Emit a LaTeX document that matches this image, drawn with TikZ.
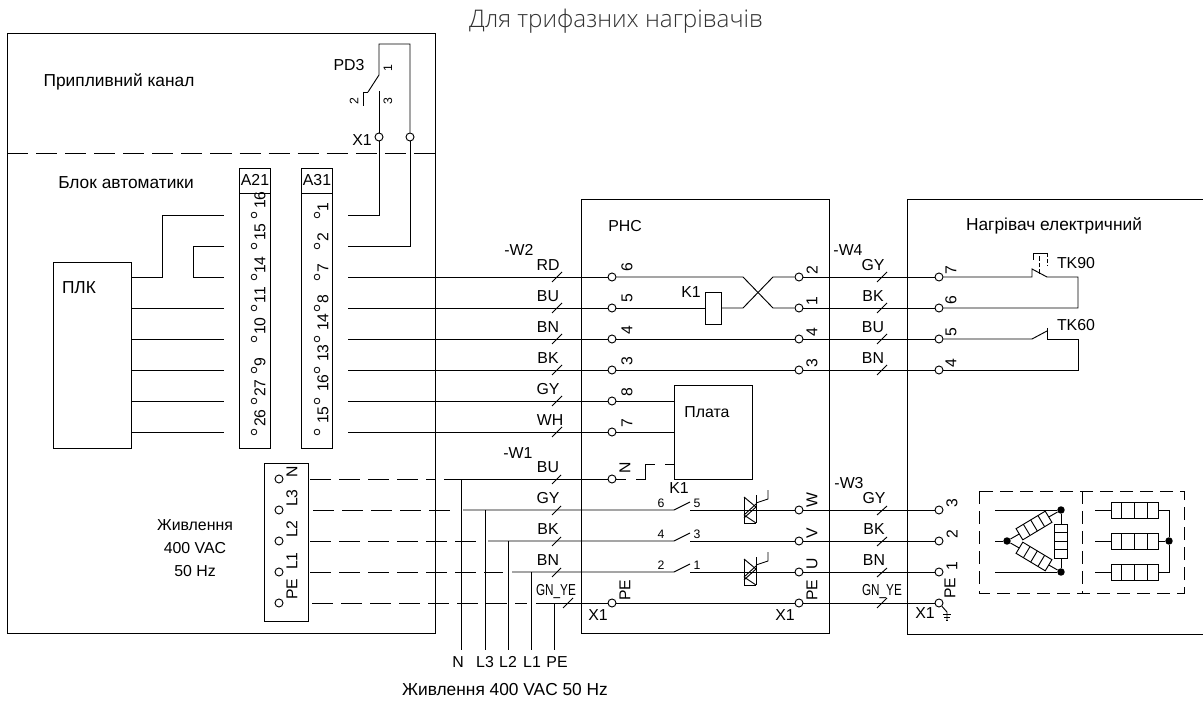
\documentclass[tikz,border=0pt]{standalone}
\usepackage{fontspec}
\setmainfont{Liberation Sans}
\newfontfamily\titlefont{Open Sans}[UprightFont=* Light]
\usepackage{xcolor}
\usetikzlibrary{calc}
\usetikzlibrary{positioning}

\definecolor{titlegray}{RGB}{50,50,50}

\tikzset{
  wire/.style={line width=0.7pt},
  longdash/.style={line width=0.7pt, dash pattern=on 15.8pt off 6pt},
  shortdash/.style={line width=0.7pt, dash pattern=on 10pt off 5pt},
  term/.style={draw, circle, line width=0.7pt, fill=white, inner sep=0pt, minimum size=6pt},
  pinc/.style={draw, circle, line width=0.6pt, fill=white, inner sep=0pt, minimum size=4.2pt},
  dotj/.style={circle, fill=black, inner sep=0pt, minimum size=5.6pt},
  lbl/.style={inner sep=0pt, font=\fontsize{11.9}{16}\selectfont},
  cyr/.style={inner sep=0pt, font=\fontsize{13}{16}\selectfont},
  rlbl/.style={lbl, rotate=90, font=\fontsize{11.8}{13}\selectfont},
  smalltxt/.style={inner sep=0pt, font=\fontsize{9.2}{10}\selectfont},
  rsmall/.style={smalltxt, rotate=90},
  narrow/.style={lbl, xscale=0.74, transform shape},
  box/.style={draw, line width=0.7pt, inner sep=0pt},
  heatd/.pic={
    \draw[wire, fill=white] (-17,-6.5) rectangle (17,6.5);
    \draw[wire] (-8.5,-6.5) -- (-8.5,6.5);
    \draw[wire] (0,-6.5) -- (0,6.5);
    \draw[wire] (8.5,-6.5) -- (8.5,6.5);
  },
  heatl/.pic={
    \draw[wire, fill=white] (-23.5,-8) rectangle (23.5,8);
    \draw[wire] (-13,-8) -- (-13,8);
    \draw[wire] (0,-8) -- (0,8);
    \draw[wire] (13,-8) -- (13,8);
  },
  triac/.pic={
    \draw[wire] (-6,-13) -- (-6,13);
    \draw[wire] (6,-15) -- (6,13);
    \draw[wire] (-6,-13) -- (6,-3);
    \draw[wire] (6,-3) -- (-6,8);
    \draw[wire] (6,-6) -- (-6,5);
    \draw[wire] (-6,5) -- (6,13);
    \draw[wire] (-6,13) -- (6,13);
    \draw[wire] (6,-7) -- (18,-11) -- (18,-20);
  }
}

\begin{document}
\begin{tikzpicture}[x=0.75pt, y=-0.75pt]
\useasboundingbox (0,0) rectangle (1203,702);

\node[font=\titlefont\fontsize{18.2}{20}\selectfont, text=titlegray, inner sep=0pt] (title) at (616,21) {Для трифазних нагрівачів};

% panels
\node[box, minimum width=321pt, minimum height=450pt] (panel) at (221,333) {};
\node[box, minimum width=186pt, minimum height=325.5pt] (phc) at (705,416) {};
\path[draw, wire] (1203,199) -- (907,199) -- (907,634) -- (1203,634);
\path[draw, longdash] (7,153) -- (435,153);
\node[box, minimum width=58.5pt, minimum height=139.5pt] (plk) at (92,355) {};
\node[box, minimum width=23.25pt, minimum height=210pt] (a21) at (255,308) {};
\node[box, minimum width=23.25pt, minimum height=210pt] (a31) at (317,308) {};
\path[draw, wire] (a21.west |- 0,193) -- (a21.east |- 0,193);
\path[draw, wire] (a31.west |- 0,193) -- (a31.east |- 0,193);
\node[box, minimum width=33pt, minimum height=118.5pt] (x1box) at (286,542) {};
\node[box, minimum width=58.5pt, minimum height=70.5pt] (plata) at (713,432) {};
\node[box, minimum width=12pt, minimum height=24pt] (k1) at (713,308) {};

% texts
\node[cyr] (t1) at (119,82) {Припливний канал};
\node[cyr] (t2) at (126,183) {Блок автоматики};
\node[lbl] (t3) at (349,65) {PD3};
\node[lbl] (t4) at (362,140) {X1};
\node[lbl] (t5) at (255,180) {A21};
\node[lbl] (t6) at (317,180) {A31};
\node[cyr] (t7) at (79,288) {ПЛК};
\node[lbl, align=center] (t8) at (195,548) {Живлення\\[1.5pt]400 VAC\\[1.5pt]50 Hz};
\node[lbl] (t9) at (625,226) {РНС};
\node[cyr] (t10) at (1054,226) {Нагрівач електричний};
\node[lbl] (t11) at (707,412) {Плата};
\node[lbl] (t12) at (691,292) {K1};
\node[lbl] (t13) at (679,488) {K1};
\node[lbl] (t14) at (1076,263) {TK90};
\node[lbl] (t15) at (1076,325) {TK60};
\node[cyr] (t16) at (505,690) {Живлення 400 VAC 50 Hz};
\node[lbl] (t17) at (458,662) {N};
\node[lbl] (t18) at (485,662) {L3};
\node[lbl] (t19) at (508,662) {L2};
\node[lbl] (t20) at (532,662) {L1};
\node[lbl] (t21) at (557,662) {PE};
\node[lbl] (t22) at (598,615) {X1};
\node[lbl] (t23) at (785,615) {X1};
\node[lbl] (t24) at (925,613) {X1};

% cable names
\node[lbl] (w2) at (519,250) {-W2};
\node[lbl] (w4) at (848,250) {-W4};
\node[lbl] (w1) at (518,453) {-W1};
\node[lbl] (w3) at (849,483) {-W3};
\node[lbl] (c1) at (548,265) {RD};
\node[lbl] (c2) at (548,296) {BU};
\node[lbl] (c3) at (548,327) {BN};
\node[lbl] (c4) at (548,358) {BK};
\node[lbl] (c5) at (548,389) {GY};
\node[lbl] (c6) at (550,420) {WH};
\node[lbl] (c7) at (548,467) {BU};
\node[lbl] (c8) at (548,498) {GY};
\node[lbl] (c9) at (548,529) {BK};
\node[lbl] (c10) at (548,560) {BN};
\node[narrow] (c11) at (556,592) {GN\_YE};
\node[lbl] (c12) at (873,265) {GY};
\node[lbl] (c13) at (873,296) {BK};
\node[lbl] (c14) at (873,327) {BU};
\node[lbl] (c15) at (873,358) {BN};
\node[lbl] (c16) at (874,498) {GY};
\node[lbl] (c17) at (874,529) {BK};
\node[lbl] (c18) at (874,560) {BN};
\node[narrow] (c19) at (882,592) {GN\_YE};

% A21
\node[pinc] (a1) at (254,215) {};
\node[pinc] (a2) at (254,246) {};
\node[pinc] (a3) at (254,277) {};
\node[pinc] (a4) at (254,308) {};
\node[pinc] (a5) at (254,339) {};
\node[pinc] (a6) at (254,370) {};
\node[pinc] (a7) at (254,401) {};
\node[pinc] (a8) at (254,432) {};
\node[rlbl] (l1) at (260,200) {16};
\node[rlbl] (l2) at (260,232) {15};
\node[rlbl] (l3) at (260,265) {14};
\node[rlbl] (l4) at (260,295) {11};
\node[rlbl] (l5) at (260,326) {10};
\node[rlbl] (l6) at (260,362) {9};
\node[rlbl] (l7) at (260,388) {27};
\node[rlbl] (l8) at (260,418) {26};

% A31
\node[pinc] (b1) at (317,215) {};
\node[pinc] (b2) at (317,246) {};
\node[pinc] (b3) at (317,277) {};
\node[pinc] (b4) at (317,308) {};
\node[pinc] (b5) at (317,339) {};
\node[pinc] (b6) at (317,370) {};
\node[pinc] (b7) at (317,401) {};
\node[pinc] (b8) at (317,432) {};
\node[rlbl] (m1) at (323,207) {1};
\node[rlbl] (m2) at (323,237) {2};
\node[rlbl] (m3) at (323,268) {7};
\node[rlbl] (m4) at (323,299) {8};
\node[rlbl] (m5) at (323,322) {14};
\node[rlbl] (m6) at (323,353) {13};
\node[rlbl] (m7) at (323,383) {16};
\node[rlbl] (m8) at (323,415) {15};

% power terminals
\node[term] (x1) at (279,479) {};
\node[term] (x2) at (279,510) {};
\node[term] (x3) at (279,541) {};
\node[term] (x4) at (279,572) {};
\node[term] (x5) at (279,603) {};
\node[rlbl] (n1) at (292,472) {N};
\node[rlbl] (n2) at (292,498) {L3};
\node[rlbl] (n3) at (292,529) {L2};
\node[rlbl] (n4) at (292,561) {L1};
\node[rlbl] (n5) at (292,589) {PE};

% PHC left
\node[term] (p1) at (612,277) {};
\node[term] (p2) at (612,308) {};
\node[term] (p3) at (612,339) {};
\node[term] (p4) at (612,370) {};
\node[term] (p5) at (612,401) {};
\node[term] (p6) at (612,432) {};
\node[term] (p7) at (612,479) {};
\node[term] (p8) at (612,603) {};
\node[rlbl] (q1) at (627,267) {6};
\node[rlbl] (q2) at (627,298) {5};
\node[rlbl] (q3) at (627,330) {4};
\node[rlbl] (q4) at (627,361) {3};
\node[rlbl] (q5) at (627,392) {8};
\node[rlbl] (q6) at (627,423) {7};
\node[rlbl] (q7) at (625,468) {N};
\node[rlbl] (q8) at (625,590) {PE};

% PHC right
\node[term] (r1) at (799,277) {};
\node[term] (r2) at (799,308) {};
\node[term] (r3) at (799,339) {};
\node[term] (r4) at (799,370) {};
\node[term] (r5) at (799,510) {};
\node[term] (r6) at (799,541) {};
\node[term] (r7) at (799,572) {};
\node[term] (r8) at (799,603) {};
\node[rlbl] (s1) at (812,270) {2};
\node[rlbl] (s2) at (812,301) {1};
\node[rlbl] (s3) at (812,332) {4};
\node[rlbl] (s4) at (812,363) {3};
\node[rlbl] (s5) at (812,500) {W};
\node[rlbl] (s6) at (812,533) {V};
\node[rlbl] (s7) at (812,564) {U};
\node[rlbl] (s8) at (812,590) {PE};

% heater terminals
\node[term] (h1) at (939,277) {};
\node[term] (h2) at (939,308) {};
\node[term] (h3) at (939,339) {};
\node[term] (h4) at (939,370) {};
\node[term] (h5) at (939,510) {};
\node[term] (h6) at (939,541) {};
\node[term] (h7) at (939,572) {};
\node[term] (h8) at (939,603) {};
\node[rlbl] (u1) at (951,270) {7};
\node[rlbl] (u2) at (951,300) {6};
\node[rlbl] (u3) at (951,332) {5};
\node[rlbl] (u4) at (951,363) {4};
\node[rlbl] (u5) at (952,503) {3};
\node[rlbl] (u6) at (952,534) {2};
\node[rlbl] (u7) at (952,566) {1};
\node[rlbl] (u8) at (950,588) {PE};

% PD3
\node[term] (d1) at (379,137) {};
\node[term] (d2) at (410,137) {};
\coordinate (e1) at (348,215);
\coordinate (e2) at (379,215);
\coordinate (e3) at (348,246);
\coordinate (e4) at (410,246);
\coordinate (e5) at (410,44);
\coordinate (e6) at (379,44);
\coordinate (e7) at (379,75);
\coordinate (e8) at (368,92);
\coordinate (e9) at (363,92);
\coordinate (e10) at (363,106);
\coordinate (e11) at (379,91);
\node[rsmall] (pd1) at (388,68) {1};
\node[rsmall] (pd2) at (354,101) {2};
\node[rsmall] (pd3) at (388,101) {3};
\path[draw, wire] (e1) -- (e2) -- (d1);
\path[draw, wire] (e3) -- (e4) -- (d2);
\path[draw, wire] (d2) -- (e5) -- (e6) -- (e7) -- (e8);
\path[draw, wire] (e9) -- (e8);
\path[draw, wire] (e9) -- (e10);
\path[draw, wire] (e11) -- (d1);

% PLK wires
\coordinate (f1) at (131,277);
\coordinate (f2) at (162,277);
\coordinate (f3) at (162,215);
\coordinate (f4) at (224,215);
\coordinate (f5) at (224,246);
\coordinate (f6) at (193,246);
\coordinate (f7) at (193,277);
\coordinate (f8) at (224,277);
\path[draw, wire] (f1) -- (f2) -- (f3) -- (f4);
\path[draw, wire] (f5) -- (f6) -- (f7) -- (f8);
\path[draw, wire] (131,308) -- (224,308);
\path[draw, wire] (131,339) -- (224,339);
\path[draw, wire] (131,370) -- (224,370);
\path[draw, wire] (131,401) -- (224,401);
\path[draw, wire] (131,432) -- (224,432);

% W2 wires
\path[draw, wire] (348,277) -- (p1);
\path[draw, wire] (348,308) -- (p2);
\path[draw, wire] (348,339) -- (p3);
\path[draw, wire] (348,370) -- (p4);
\path[draw, wire] (348,401) -- (p5);
\path[draw, wire] (348,432) -- (p6);
\path[draw, wire] (552,282) -- (562,272);
\path[draw, wire] (552,313) -- (562,303);
\path[draw, wire] (552,344) -- (562,334);
\path[draw, wire] (552,375) -- (562,365);
\path[draw, wire] (552,406) -- (562,396);
\path[draw, wire] (552,437) -- (562,427);

% relay K1
\coordinate (g1) at (743,277);
\coordinate (g2) at (773,308);
\coordinate (g3) at (743,308);
\coordinate (g4) at (773,277);
\path[draw, wire] (p1) -- (g1) -- (g2) -- (r2);
\path[draw, wire] (p2) -- (k1);
\path[draw, wire] (k1) -- (g3) -- (g4) -- (r1);
\path[draw, wire] (p3) -- (r3);
\path[draw, wire] (p4) -- (r4);
\path[draw, wire] (p5) -- (p5 -| plata.west);
\path[draw, wire] (p6) -- (p6 -| plata.west);

% W4 wires
\path[draw, wire] (r1) -- (h1);
\path[draw, wire] (r2) -- (h2);
\path[draw, wire] (r3) -- (h3);
\path[draw, wire] (r4) -- (h4);
\path[draw, wire] (877,282) -- (887,272);
\path[draw, wire] (877,313) -- (887,303);
\path[draw, wire] (877,344) -- (887,334);
\path[draw, wire] (877,375) -- (887,365);

% TK90, TK60
\coordinate (i1) at (1032,277);
\coordinate (i2) at (1032,269);
\coordinate (i3) at (1047,277);
\coordinate (i4) at (1078,277);
\coordinate (i5) at (1078,308);
\path[draw, wire] (h1) -- (i1) -- (i2) -- (i3) -- (i4) -- (i5) -- (h2);
\path[draw, wire, dash pattern=on 3.5pt off 1.5pt] (1039,274) -- (1039,253);
\path[draw, wire] (1033,260) -- (1033,253) -- (1047,253);
\path[draw, wire, dash pattern=on 3pt off 1.5pt] (1047,253) -- (1047,266);
\coordinate (j1) at (1032,339);
\coordinate (j2) at (1047,331);
\coordinate (j3) at (1047,339);
\coordinate (j4) at (1078,339);
\coordinate (j5) at (1078,370);
\path[draw, wire] (h3) -- (j1) -- (j2);
\path[draw, wire] (1047,328) -- (j3) -- (j4) -- (j5) -- (h4);

% power wires
\coordinate (v1) at (310,479);
\coordinate (v2) at (313,510);
\coordinate (v3) at (310,541);
\coordinate (v4) at (310,572);
\coordinate (v5) at (312,603);
\coordinate (y1) at (436,479);
\coordinate (y2) at (455,510);
\coordinate (y3) at (480,541);
\coordinate (y4) at (503,572);
\coordinate (y5) at (527,603);
\coordinate (z1) at (444,479);
\coordinate (z2) at (463,510);
\coordinate (z3) at (488,541);
\coordinate (z4) at (512,572);
\coordinate (z5) at (536,603);
\path[draw, longdash] (v1) -- (y1);
\path[draw, longdash] (v2) -- (y2);
\path[draw, longdash] (v3) -- (y3);
\path[draw, longdash] (v4) -- (y4);
\path[draw, longdash] (v5) -- (y5);
\path[draw, wire] (z1) -- (p7);
\path[draw, wire] (z5) -- (p8);
\path[draw, wire] (p8) -- (r8);
\path[draw, wire] (r8) -- (h8);
\path[draw, wire] (461,479) -- (461,650);
\path[draw, wire] (485,510) -- (485,650);
\path[draw, wire] (508,541) -- (508,650);
\path[draw, wire] (531,572) -- (531,650);
\path[draw, wire] (554,603) -- (554,650);
\path[draw, wire] (552,484) -- (561,475);
\path[draw, wire] (552,515) -- (561,506);
\path[draw, wire] (552,546) -- (561,537);
\path[draw, wire] (552,577) -- (561,568);
\path[draw, wire] (563,608) -- (573,598);

% plate N feed
\coordinate (n6) at (626,479);
\path[draw, wire] (p7) -- (n6);
\path[draw, wire] (636,479) -- (645,479) -- (645,464) -- (655,464);
\path[draw, wire] (665,464) -- (plata.west |- 0,464);

% K1 contacts
\coordinate (k2) at (674,510);
\coordinate (k3) at (690,502);
\coordinate (k4) at (690,510);
\coordinate (k5) at (674,541);
\coordinate (k6) at (690,533);
\coordinate (k7) at (690,541);
\coordinate (k8) at (674,572);
\coordinate (k9) at (690,564);
\coordinate (k10) at (690,572);
\path[draw, wire] (z2) -- (k2) -- (k3);
\path[draw, wire] (k4) -- (r5);
\path[draw, wire] (z3) -- (k5) -- (k6);
\path[draw, wire] (k7) -- (r6);
\path[draw, wire] (z4) -- (k8) -- (k9);
\path[draw, wire] (k10) -- (r7);
\node[smalltxt] (o1) at (661,503) {6};
\node[smalltxt] (o2) at (697,503) {5};
\node[smalltxt] (o3) at (661,534) {4};
\node[smalltxt] (o4) at (697,534) {3};
\node[smalltxt] (o5) at (661,565) {2};
\node[smalltxt] (o6) at (697,565) {1};
\pic at (750,510) {triac};
\pic at (750,572) {triac};

% W3 wires
\path[draw, wire] (r5) -- (h5);
\path[draw, wire] (r6) -- (h6);
\path[draw, wire] (r7) -- (h7);
\path[draw, wire] (877,515) -- (887,506);
\path[draw, wire] (877,546) -- (887,537);
\path[draw, wire] (877,577) -- (887,568);
\path[draw, wire] (877,608) -- (887,598);

% earth
\coordinate (ea) at (947,612);
\coordinate (eb) at (947,620);
\path[draw, wire] (h8) -- (ea) -- (eb);
\path[draw, wire] (943,614) -- (951,614);
\path[draw, wire] (944,617) -- (950,617);
\path[draw, wire] (946,620) -- (948,620);

% heaters
\path[draw, shortdash] (979,491) rectangle (1184,593);
\path[draw, shortdash] (1082,491) -- (1082,593);
\node[dotj] (da) at (1061,510) {};
\node[dotj] (db) at (1007,541) {};
\node[dotj] (dc) at (1061,572) {};
\node[dotj] (dd) at (1169,541) {};
\path[draw, wire] (995,510) -- (da);
\path[draw, wire] (995,541) -- (db);
\path[draw, wire] (995,572) -- (dc);
\path[draw, wire] (da) -- (db);
\path[draw, wire] (db) -- (dc);
\path[draw, wire] (da) -- (dc);
\pic[rotate=31] at (1034,525.5) {heatd};
\pic[rotate=-31] at (1034,556.5) {heatd};
\pic[rotate=90] at (1061,541) {heatd};
\path[draw, wire] (1095,510) -- (1169,510) -- (dd);
\path[draw, wire] (1095,541) -- (dd);
\path[draw, wire] (1095,572) -- (1169,572) -- (dd);
\pic at (1134.5,510) {heatl};
\pic at (1134.5,541) {heatl};
\pic at (1134.5,572) {heatl};

\end{tikzpicture}
\end{document}
